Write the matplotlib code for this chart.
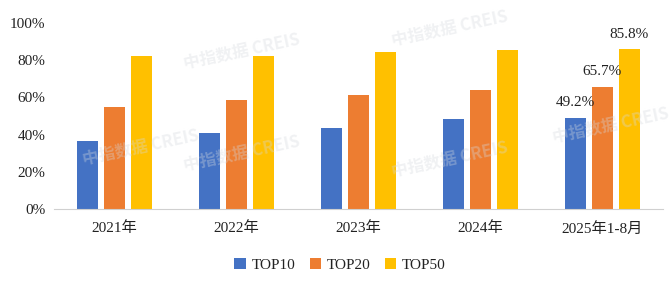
import matplotlib.pyplot as plt
import numpy as np

plt.rcParams['font.family'] = ['Liberation Serif', 'Noto Sans CJK SC']

years = ['2021年', '2022年', '2023年', '2024年', '2025年1-8月']
top10 = [36.7, 40.9, 43.5, 48.4, 49.2]
top20 = [54.6, 58.6, 61.3, 64.0, 65.7]
top50 = [82.4, 82.4, 84.4, 85.5, 85.8]
series = ['TOP10', 'TOP20', 'TOP50']
colors = ['#4472C4', '#ED7D31', '#FFC000']

fig = plt.figure(figsize=(6.72, 2.84), dpi=100)
ax = fig.add_axes([0.080, 0.264, 0.907, 0.655])

x = np.arange(len(years))
w = 0.172
step = 0.221
bars = []
for i, (vals, name, c) in enumerate(zip([top10, top20, top50], series, colors)):
    b = ax.bar(x + (i - 1) * step, vals, w, color=c, label=name, zorder=2)
    bars.append(b)

# labels only on the last group
for b in bars:
    r = b[-1]
    ax.text(r.get_x() + r.get_width() / 2, r.get_height() + 4.5,
            '%.1f%%' % r.get_height(), ha='center', va='bottom',
            fontsize=11, color='#222222')

ax.set_xlim(-0.5, len(years) - 0.5)
ax.set_ylim(0, 100)
ax.set_yticks(range(0, 101, 20))
ax.set_yticklabels(['%d%%' % v for v in range(0, 101, 20)], fontsize=11, color='#222222')
ax.set_xticks(x)
ax.set_xticklabels(years, fontsize=11, color='#222222')
ax.tick_params(length=0, pad=6)
ax.tick_params(axis='x', pad=9)
for s in ['top', 'right', 'left']:
    ax.spines[s].set_visible(False)
ax.spines['bottom'].set_color('#D0D0D0')

ax.legend(loc='upper center', bbox_to_anchor=(0.47, -0.19), ncol=3, frameon=False,
          fontsize=11, handlelength=0.75, handleheight=0.75, handletextpad=0.4,
          columnspacing=0.9, labelcolor='#222222')

# watermark
wm = [(0.27, 0.76), (0.58, 0.84), (0.12, 0.42), (0.27, 0.40),
      (0.58, 0.38), (0.82, 0.50)]
for px, py in wm:
    fig.text(px, py, '中指数据 CREIS', fontsize=12, color='#D5D9DE', alpha=0.35,
             rotation=12, family=['Noto Sans CJK SC', 'DejaVu Sans'],
             fontweight='bold', zorder=10)

fig.savefig('out.png', dpi=100)
